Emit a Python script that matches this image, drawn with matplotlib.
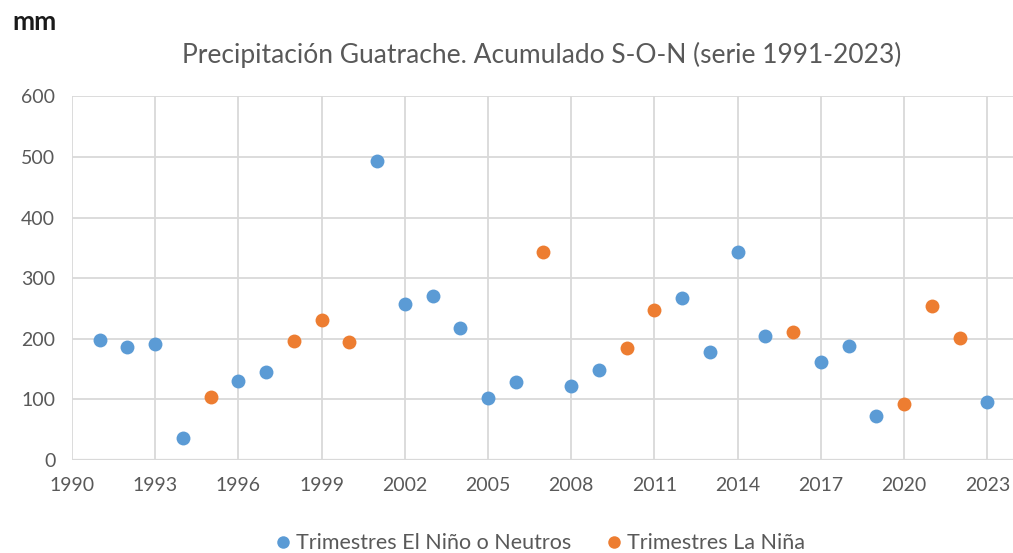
import numpy as np
import matplotlib
matplotlib.use("Agg")
import matplotlib.pyplot as plt
from matplotlib.lines import Line2D

BLUE = "#5b9bd5"
ORANGE = "#ed7d31"
TEXT = "#595959"
GRID = "#d9d9d9"

plt.rcParams["font.family"] = ["Lato", "DejaVu Sans"]

years = list(range(1991, 2024))
precip = [198, 186, 191, 36, 104, 130, 145, 196, 231, 194,
          494, 257, 270, 217, 102, 128, 343, 122, 148, 185,
          247, 267, 178, 343, 204, 211, 161, 188, 72, 92,
          254, 201, 96]
la_nina = [1995, 1998, 1999, 2000, 2007, 2010, 2011, 2016, 2020, 2021, 2022]

x_ticks = list(range(1990, 2024, 3))
y_ticks = list(range(0, 601, 100))

years = np.array(years)
precip = np.array(precip)
is_nina = np.isin(years, la_nina)

fig = plt.figure(figsize=(10.13, 5.53), dpi=100)
ax = fig.add_axes([0.071, 0.168, 0.931, 0.658])

ax.plot(years[~is_nina], precip[~is_nina], "o", color=BLUE, markersize=10,
        markeredgewidth=0, zorder=3)
ax.plot(years[is_nina], precip[is_nina], "o", color=ORANGE, markersize=10,
        markeredgewidth=0, zorder=3)

ax.set_xlim(1990, 2024)
ax.set_ylim(0, 600)
ax.set_xticks(x_ticks)
ax.set_yticks(y_ticks)
ax.grid(True, color=GRID, linewidth=1.3, zorder=0)
for s in ax.spines.values():
    s.set_visible(False)
ax.axhline(0, color=GRID, linewidth=1.6, zorder=1)
ax.tick_params(length=0, colors=TEXT, labelsize=14)
ax.tick_params(axis="x", pad=12)
ax.tick_params(axis="y", pad=12)

fig.text(0.012, 0.96, "mm", fontsize=19, fontweight="bold", color="#1a1a1a",
         va="center", ha="left")
fig.text(0.5345, 0.9, "Precipitación Guatrache. Acumulado S-O-N (serie 1991-2023)",
         fontsize=19, color=TEXT, ha="center", va="center")

handles = [Line2D([], [], marker="o", linestyle="", color=BLUE, markersize=9,
                  markeredgewidth=0),
           Line2D([], [], marker="o", linestyle="", color=ORANGE, markersize=9,
                  markeredgewidth=0)]
fig.legend(handles, ["Trimestres El Niño o Neutros", "Trimestres La Niña"],
           loc="center", bbox_to_anchor=(0.532, 0.018), ncol=2, frameon=False,
           fontsize=15.5, labelcolor=TEXT, handlelength=1.0, handletextpad=0.1,
           columnspacing=1.5)

fig.savefig("out.png", dpi=100)
